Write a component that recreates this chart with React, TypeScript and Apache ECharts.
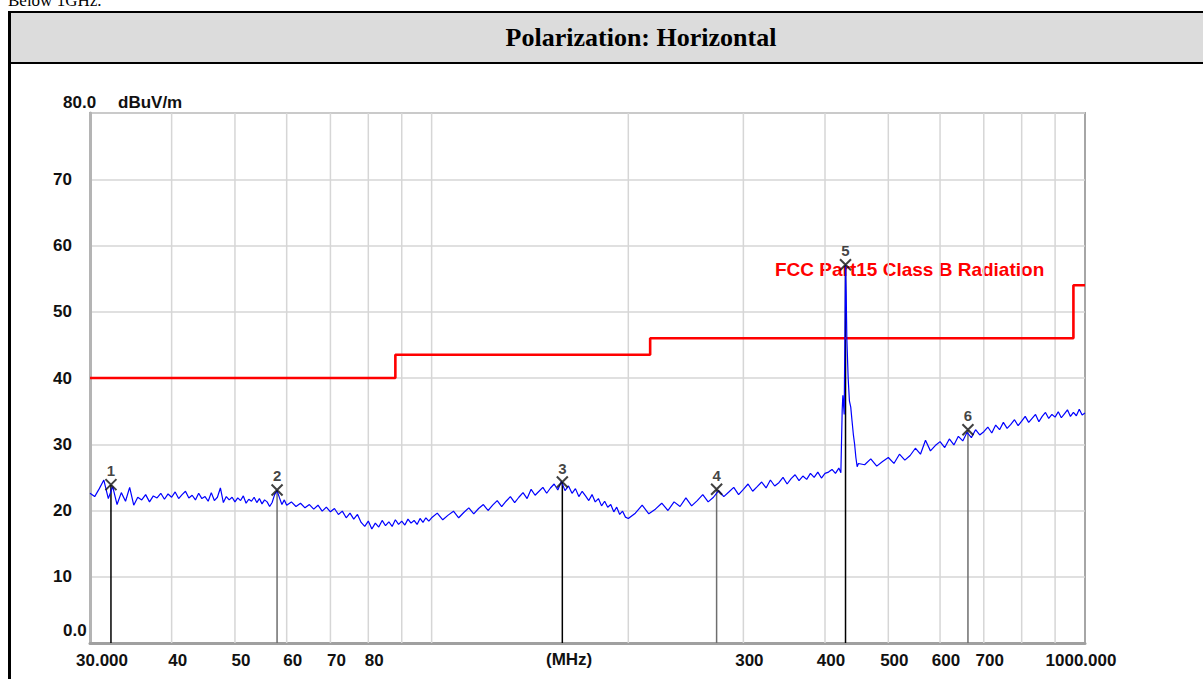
import React, { useEffect, useRef } from 'react';
import * as echarts from 'echarts';

// ---- measured trace (MHz, dBuV/m) ----
const band1Freq = [30,30.5,31,31.5,32,32.5,33,33.5,34,34.5,35,35.5,36,36.5,37,37.5,38,38.5,39,39.5,40,40.5,41,41.5,42,42.5,43,43.5,44,44.5,45,45.5,46,46.5,47,47.5,48,48.5,49,49.5,50,50.5,51,51.5,52,52.5,53,53.5,54,54.5,55,55.5,56,56.5,57,57.5,58,58.5,59,59.5,60];
const band1Level = [22.6,22.1,23.3,24.6,21.8,23.6,20.9,22.7,21.4,23.5,20.8,22.0,21.6,22.4,21.3,22.2,21.9,22.6,21.7,22.5,22.0,22.8,21.8,22.4,22.9,21.9,22.3,21.6,22.6,21.8,22.1,21.4,22.7,21.5,22.0,23.4,21.2,22.1,21.6,22.0,21.3,21.9,21.5,22.2,21.1,21.7,21.4,22.0,21.2,21.8,21.0,21.6,21.3,20.6,21.2,22.4,23.0,21.9,20.9,21.6,20.8];
const band2Freq = [61,62,63,64,65,66,67,68,69,70,71,72,73,74,75,76,77,78,79,80,81,82,83,84,85,86,87,88,89,90,91,92,93,94,95,96,97,98,99];
const band2Level = [21.3,20.6,21.1,20.4,20.9,20.2,20.8,19.9,20.5,19.8,20.3,19.4,19.9,18.9,19.6,18.7,19.4,18.2,17.6,18.4,17.2,18.1,17.5,18.5,17.7,18.3,17.6,18.6,17.9,18.4,17.8,18.7,18.1,18.5,17.9,18.8,18.2,18.9,18.4];
const band3Freq = [100,102,104,106,108,110,112,114,116,118,120,122,124,126,128,130,132,134,136,138,140,142,144,146,148,150,152,154,156,158,160,162,164,166,168,170,172,174,176,178,180,182,184,186,188,190,192,194,196,198,200];
const band3Level = [18.9,19.6,18.6,19.3,19.9,18.9,19.7,20.4,19.5,20.3,20.9,20.0,20.8,21.5,20.6,21.4,22.1,21.2,22.0,22.7,21.8,23.2,22.3,22.9,23.5,22.6,23.4,24.0,23.1,24.4,23.0,23.7,22.6,23.3,22.1,22.9,22.2,21.5,22.4,21.3,21.8,20.7,21.4,20.5,20.9,19.8,20.5,19.4,19.9,19.0,18.8];
const band4Freq = [205,210,215,220,225,230,235,240,245,250,255,260,265,270,275,280,285,290,295,300,305,310,315,320,325,330,335,340,345,350,355,360,365,370,375,380,385,390,395,400];
const band4Level = [19.6,20.8,19.5,20.2,21.1,20.0,21.3,20.6,21.9,20.7,21.5,22.4,21.3,22.0,23.0,22.1,22.8,23.5,22.4,23.2,24.0,22.9,23.6,24.3,23.4,24.6,23.7,24.2,25.0,24.0,24.8,25.4,24.5,25.2,24.7,25.6,25.0,25.8,24.9,25.6];
const band5Freq = [405,410,415,420,423,425,426,428,430,431,432,434,436,438,440,442,444,446,448,450];
const band5Level = [25.8,26.2,25.6,26.4,25.7,35.2,37.4,34.5,57.1,52.8,46.0,40.0,36.5,35.6,33.5,31.5,30.0,28.0,26.6,27.1];
const band6Freq = [460,470,480,490,500,510,520,530,540,550,560,570,580,590,600,610,620,630,640,650,660,670,680,690,700,710,720,730,740,750,760,770,780,790,800,810,820,830,840,850,860,870,880,890,900,910,920,930,940,950,960,970,980,990,1000];
const band6Level = [26.9,27.8,26.7,27.4,28.0,27.1,28.5,27.6,28.3,29.4,28.5,30.6,29.0,29.8,30.4,29.5,30.8,29.9,31.2,30.5,31.8,31.0,32.2,31.4,31.9,32.6,31.7,32.9,32.2,33.3,32.4,33.0,33.7,32.8,33.5,34.2,33.3,33.9,34.5,33.4,34.2,34.8,33.9,34.5,34.1,34.9,34.0,34.6,35.2,34.2,34.8,34.3,35.3,34.4,34.7];

// ---- FCC Part15 Class B limit ----
const limitFreq = [30, 88, 88, 216, 216, 960, 960, 1000];
const limitLevel = [40, 40, 43.5, 43.5, 46, 46, 54, 54];
const limitName = 'FCC Part15 Class B Radiation';

// ---- markers ----
const markerIds = ['1', '2', '3', '4', '5', '6'];
const markerFreq = [32.3, 58.0, 158.5, 273, 430, 662];
const markerLevel = [23.9, 23.1, 24.3, 23.2, 57.1, 32.2];

// ---- axes ----
const gridFreq = [40, 50, 60, 70, 80, 90, 100, 200, 300, 400, 500, 600, 700, 800, 900];
const xTickFreq = [30, 40, 50, 60, 70, 80, 300, 400, 500, 600, 700, 1000];
const xTickText = ['30.000', '40', '50', '60', '70', '80', '300', '400', '500', '600', '700', '1000.000'];
const yMin = 0;
const yMax = 80;
const yStep = 10;

const traceFreq = [...band1Freq, ...band2Freq, ...band3Freq, ...band4Freq, ...band5Freq, ...band6Freq];
const traceLevel = [...band1Level, ...band2Level, ...band3Level, ...band4Level, ...band5Level, ...band6Level];

const SANS = '"Liberation Sans", Arial, sans-serif';

export default function App() {
  const ref = useRef<HTMLDivElement>(null);
  useEffect(() => {
    const chart = echarts.init(ref.current as HTMLDivElement, null, { renderer: 'svg' });
    const option: any = {
      animation: false,
      grid: {
        left: 90, right: 118, top: 49, bottom: 36,
        show: true, borderColor: '#a6a6a6', borderWidth: 2,
      },
      xAxis: {
        type: 'log', logBase: 10, min: 30, max: 1000,
        axisLine: { show: true, lineStyle: { color: '#a0a0a0', width: 3 } },
        axisTick: { show: false }, axisLabel: { show: false }, splitLine: { show: false },
      },
      yAxis: {
        type: 'value', min: yMin, max: yMax, interval: yStep,
        axisLine: { show: true, lineStyle: { color: '#b4b4b4', width: 3 } },
        axisTick: { show: false },
        splitLine: { show: true, lineStyle: { color: '#d6d6d6', width: 1.5 } },
        axisLabel: {
          margin: 18, color: '#111', fontFamily: SANS, fontWeight: 'bold', fontSize: 17,
          formatter: (v: number) => (v === yMin || v === yMax ? '' : String(v)),
        },
      },
      graphic: [
        { type: 'text', left: 63, top: 30, style: { text: '80.0', font: `bold 17px ${SANS}`, fill: '#111' } },
        { type: 'text', left: 118, top: 30, style: { text: 'dBuV/m', font: `bold 17px ${SANS}`, fill: '#111' } },
        { type: 'text', left: 63, top: 558, style: { text: '0.0', font: `bold 17px ${SANS}`, fill: '#111' } },
        { type: 'text', left: 546, top: 587, style: { text: '(MHz)', font: `bold 17px ${SANS}`, fill: '#111' } },
        { type: 'text', left: 775, top: 196, style: { text: limitName, font: `bold 19px ${SANS}`, fill: '#ff0000' } },
      ],
      series: [
        {
          type: 'custom', name: 'vgrid', z: 1, silent: true,
          data: gridFreq.map((f) => [f, yMin]),
          renderItem: (p: any, api: any) => {
            const f = api.value(0);
            const a = api.coord([f, yMax]);
            const b = api.coord([f, yMin]);
            return { type: 'line', shape: { x1: a[0], y1: a[1], x2: b[0], y2: b[1] }, style: { stroke: '#d6d6d6', lineWidth: 1.5 } };
          },
        },
        {
          type: 'custom', name: 'xlabels', z: 1, silent: true, clip: false,
          data: xTickFreq.map((f, i) => [f, yMin, i]),
          renderItem: (p: any, api: any) => {
            const f = api.value(0);
            const i = api.value(2);
            const c = api.coord([f, yMin]);
            let x = c[0] + 6;
            let align = 'center';
            if (i === 0) { x = c[0] - 14; align = 'left'; }
            if (i === xTickFreq.length - 1) { x = c[0] - 4; }
            return {
              type: 'text', x, y: c[1] + 17,
              style: { text: xTickText[i], font: `bold 17px ${SANS}`, fill: '#111', align, verticalAlign: 'middle' },
            };
          },
        },
        {
          type: 'custom', name: 'markerLines', z: 2, silent: true,
          data: markerFreq.map((f, i) => [f, markerLevel[i], i]),
          renderItem: (p: any, api: any) => {
            const f = api.value(0);
            const v = api.value(1);
            const i = api.value(2);
            const a = api.coord([f, v]);
            const b = api.coord([f, yMin]);
            return { type: 'line', shape: { x1: a[0], y1: a[1], x2: b[0], y2: b[1] }, style: { stroke: i % 2 === 0 ? '#000' : '#6e6e6e', lineWidth: 1.5 } };
          },
        },
        {
          type: 'line', name: limitName, z: 3, symbol: 'none',
          data: limitFreq.map((f, i) => [f, limitLevel[i]]),
          lineStyle: { color: '#ff0000', width: 2.6 },
        },
        {
          type: 'line', name: 'trace', z: 4, symbol: 'none',
          data: traceFreq.map((f, i) => [f, traceLevel[i]]),
          lineStyle: { color: '#0000ff', width: 1.2 },
        },
        {
          type: 'scatter', name: 'markers', z: 5,
          symbol: 'path://M0 0L10 10M10 0L0 10', symbolSize: 11,
          itemStyle: { color: 'transparent', borderColor: '#111', borderWidth: 2 },
          data: markerFreq.map((f, i) => [f, markerLevel[i]]),
          label: {
            show: true, position: 'top', distance: 0, color: '#111', fontFamily: SANS, fontWeight: 'bold', fontSize: 15,
            formatter: (p: any) => markerIds[p.dataIndex],
          },
        },
      ],
    };
    chart.setOption(option);
    return () => chart.dispose();
  }, []);

  return (
    <div style={{ position: 'absolute', left: 0, top: 0, width: 1203, height: 679, overflow: 'hidden', background: '#fff' }}>
      <div style={{ position: 'absolute', left: 8, top: -8, fontFamily: '"Liberation Serif", "Times New Roman", serif', fontSize: 17, lineHeight: '17px', whiteSpace: 'nowrap' }}>Below 1GHz.</div>
      <div style={{ position: 'absolute', left: 8, top: 11, width: 1400, height: 800, borderTop: '2px solid #000', borderLeft: '3px solid #000', boxSizing: 'border-box' }} />
      <div style={{ position: 'absolute', left: 11, top: 13, width: 1400, height: 49, background: '#dcdcdc', borderBottom: '2px solid #000' }} />
      <div style={{ position: 'absolute', left: 0, top: 13, width: 1282, height: 49, display: 'flex', alignItems: 'center', justifyContent: 'center', fontFamily: '"Liberation Serif", "Times New Roman", serif', fontWeight: 'bold', fontSize: 26, whiteSpace: 'nowrap' }}>Polarization: Horizontal</div>
      <div ref={ref} style={{ position: 'absolute', left: 0, top: 64, width: 1203, height: 615 }} />
    </div>
  );
}
